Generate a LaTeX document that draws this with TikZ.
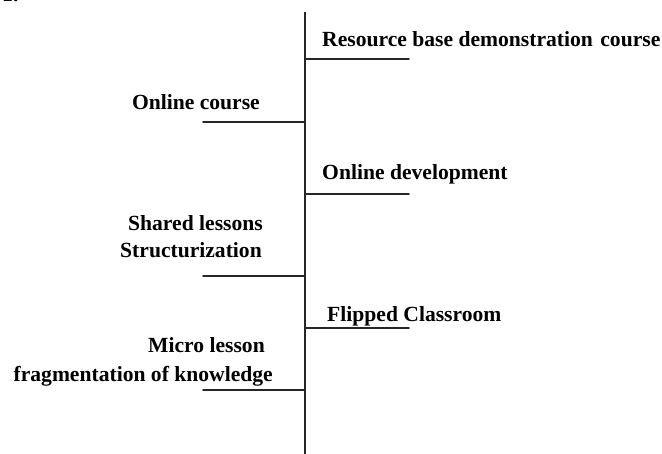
\documentclass[tikz,border=0pt]{standalone}
\usepackage{fontspec}
\setmainfont{Liberation Serif}
\usetikzlibrary{calc}

\begin{document}
\begin{tikzpicture}[x = 1pt, y = -1pt, style={line cap = round},
  branch/.style={draw=black!85, line width=1.6pt},
  lbl/.style={font=\fontsize{21.6}{27}\selectfont\bfseries, inner sep=0pt}]

  \useasboundingbox (0, 0) rectangle (662, 454);
  % number above the picture, cut off at the top
  \node[lbl, anchor=base west] (num) at (2, 2) {1.};

  % spine
  \coordinate (top) at (305, 12);
  \coordinate (bottom) at (305, 456);
  \draw[branch, line cap=butt] (top) -- (bottom);

  % right branches
  \coordinate (r1) at (305, 59);  \coordinate (r1e) at (409, 59);
  \coordinate (r2) at (305, 194); \coordinate (r2e) at (409, 194);
  \coordinate (r3) at (305, 328); \coordinate (r3e) at (409, 328);
  \draw[branch] (r1) -- (r1e);
  \draw[branch] (r2) -- (r2e);
  \draw[branch] (r3) -- (r3e);
  \node[lbl, anchor=base west] (resbase) at (322, 47) {Resource base demonstration\kern2pt{} course};
  \node[lbl, anchor=base west] (onldev) at (322, 180) {Online development};
  \node[lbl, anchor=base west] (flipped) at (327, 322) {Flipped Classroom};

  % left branches
  \coordinate (l1) at (305, 122); \coordinate (l1e) at (203, 122);
  \coordinate (l2) at (305, 276); \coordinate (l2e) at (203, 276);
  \coordinate (l3) at (305, 390); \coordinate (l3e) at (203, 390);
  \draw[branch] (l1) -- (l1e);
  \draw[branch] (l2) -- (l2e);
  \draw[branch] (l3) -- (l3e);
  \node[lbl, anchor=base east] (online) at (260, 110) {Online course};
  \node[lbl, anchor=base east] (shared) at (263, 231) {Shared lessons};
  \node[lbl, anchor=base east] (struct) at (262, 258) {Structurization};
  \node[lbl, anchor=base east] (micro) at (265, 353) {Micro lesson};
  \node[lbl, anchor=base east] (frag) at (273, 382) {fragmentation of knowledge};

\end{tikzpicture}
\end{document}
